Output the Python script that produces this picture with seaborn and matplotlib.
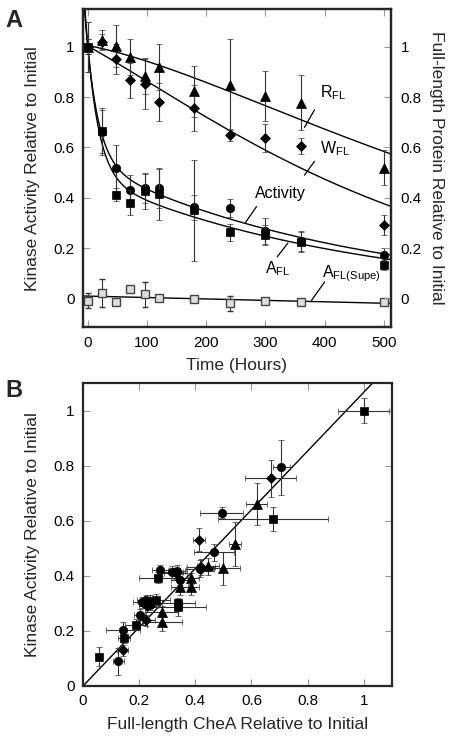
import numpy as np
import pandas as pd
import matplotlib
matplotlib.use("Agg")
import matplotlib.pyplot as plt
import seaborn as sns

# ---- Panel A data: time course ----
hours = [0, 24, 48, 72, 96, 120, 180, 240, 300, 360, 500]

r_fl = [1.0, 1.028, 1.004, 0.96, 0.884, 0.92, 0.823, 0.85, 0.806, 0.778, 0.519]
r_fl_err = [0.03, 0.04, 0.085, 0.07, 0.07, 0.09, 0.1, 0.18, 0.1, 0.11, 0.07]

w_fl = [1.0, 1.02, 0.951, 0.867, 0.852, 0.781, 0.757, 0.649, 0.639, 0.606, 0.293]
w_fl_err = [0.03, 0.03, 0.06, 0.07, 0.1, 0.075, 0.09, 0.025, 0.055, 0.03, 0.04]

activity = [1.0, 0.66, 0.518, 0.43, 0.44, 0.44, 0.362, 0.36, 0.268, 0.228, 0.172]
activity_err = [0.1, 0.09, 0.09, 0.06, 0.06, 0.08, 0.05, 0.035, 0.05, 0.04, 0.03]

a_fl = [1.0, 0.667, 0.412, 0.38, 0.425, 0.413, 0.35, 0.262, 0.251, 0.224, 0.134]
a_fl_err = [0.1, 0.09, 0.025, 0.05, 0.07, 0.1, 0.2, 0.035, 0.04, 0.04, 0.02]

supe = [-0.01, 0.02, -0.013, 0.036, 0.016, 0.0, -0.004, -0.02, -0.01, -0.015, -0.013]
supe_err = [0.03, 0.055, 0.01, 0.01, 0.05, 0.01, 0.01, 0.03, 0.01, 0.01, 0.01]

# ---- Panel B data: activity vs full-length CheA ----
circ_x = [0.707, 0.494, 0.467, 0.276, 0.316, 0.334, 0.345, 0.416, 0.209, 0.223, 0.237, 0.24, 0.203, 0.143, 0.126]
circ_y = [0.794, 0.630, 0.485, 0.42, 0.414, 0.418, 0.386, 0.426, 0.304, 0.311, 0.309, 0.295, 0.259, 0.204, 0.089]
circ_xe = [0.03, 0.076, 0.07, 0.03, 0.04, 0.03, 0.03, 0.05, 0.03, 0.03, 0.03, 0.03, 0.02, 0.06, 0.02]
circ_ye = [0.1, 0.02, 0.03, 0.02, 0.02, 0.02, 0.02, 0.03, 0.02, 0.02, 0.02, 0.02, 0.02, 0.03, 0.05]

sq_x = [1.0, 0.677, 0.268, 0.26, 0.34, 0.337, 0.189, 0.146, 0.058]
sq_y = [1.0, 0.607, 0.393, 0.313, 0.301, 0.286, 0.222, 0.175, 0.106]
sq_xe = [0.09, 0.195, 0.07, 0.05, 0.06, 0.1, 0.04, 0.02, 0.01]
sq_ye = [0.045, 0.044, 0.02, 0.02, 0.02, 0.03, 0.02, 0.02, 0.035]

dia_x = [0.668, 0.413, 0.42, 0.33, 0.229, 0.226, 0.141]
dia_y = [0.754, 0.532, 0.432, 0.41, 0.29, 0.239, 0.13]
dia_xe = [0.092, 0.022, 0.05, 0.04, 0.03, 0.03, 0.02]
dia_ye = [0.068, 0.04, 0.03, 0.02, 0.02, 0.02, 0.02]

tri_x = [0.618, 0.541, 0.5, 0.445, 0.383, 0.383, 0.345, 0.28, 0.282]
tri_y = [0.661, 0.515, 0.428, 0.434, 0.392, 0.359, 0.359, 0.27, 0.231]
tri_xe = [0.039, 0.022, 0.06, 0.04, 0.03, 0.03, 0.03, 0.06, 0.07]
tri_ye = [0.078, 0.08, 0.06, 0.03, 0.02, 0.03, 0.03, 0.02, 0.03]


def fit_biexp(t, y):
    # grid search over two rates, amplitudes by least squares
    t = np.asarray(t, float)
    y = np.asarray(y, float)
    best = None
    for k1 in np.logspace(-2.5, 0, 70):
        for k2 in np.logspace(-5, -2, 70):
            if k2 >= k1:
                continue
            M = np.column_stack([np.exp(-k1 * t), np.exp(-k2 * t)])
            c, *_ = np.linalg.lstsq(M, y, rcond=None)
            sse = np.sum((M @ c - y) ** 2)
            if best is None or sse < best[0]:
                best = (sse, k1, k2, c)
    _, k1, k2, c = best
    return lambda x: c[0] * np.exp(-k1 * x) + c[1] * np.exp(-k2 * x)


sns.set_theme(style="ticks")
plt.rcParams['font.family'] = ['Liberation Sans', 'DejaVu Sans']
plt.rcParams['axes.linewidth'] = 1.6
plt.rcParams['xtick.color'] = '#999999'
plt.rcParams['ytick.color'] = '#999999'
plt.rcParams['xtick.labelcolor'] = 'black'
plt.rcParams['ytick.labelcolor'] = 'black'

fig = plt.figure(figsize=(4.61, 7.37), dpi=100)
axA = fig.add_axes([0.180, 0.556, 0.668, 0.4315])
axB = fig.add_axes([0.180, 0.0692, 0.670, 0.411])

tt = np.linspace(-8, 512, 600)
eb = dict(ecolor='#333333', elinewidth=0.8, capsize=2, capthick=0.8, ls='none', mew=0.5)

# fitted curves
curves = []
for name, vals in [("R", r_fl), ("W", w_fl), ("Act", activity), ("A", a_fl)]:
    f = fit_biexp(hours, vals)
    curves.append(pd.DataFrame({"t": tt, "y": f(tt), "s": name}))
pcoef = np.polyfit(hours, supe, 1)
curves.append(pd.DataFrame({"t": tt, "y": np.polyval(pcoef, tt), "s": "Supe"}))
curve_df = pd.concat(curves)
sns.lineplot(data=curve_df, x="t", y="y", units="s", estimator=None, color='black',
             lw=1.0, ax=axA, zorder=2)

axA.errorbar(hours, r_fl, yerr=r_fl_err, marker='^', ms=6.5, color='black', **eb, zorder=3)
axA.errorbar(hours, w_fl, yerr=w_fl_err, marker='D', ms=5, color='black', **eb, zorder=3)
axA.errorbar(hours, activity, yerr=activity_err, marker='o', ms=6, color='black', **eb, zorder=3)
axA.errorbar(hours, a_fl, yerr=a_fl_err, marker='s', ms=6, color='black', **eb, zorder=4)
eb_supe = dict(eb, mew=1.0)
axA.errorbar(hours, supe, yerr=supe_err, marker='s', ms=6, mfc='#dddddd', mec='#444444',
             color='black', **eb_supe, zorder=3)

axA.set_xlim(-8, 512)
axA.set_ylim(-0.115, 1.15)
axA.set_xticks([0, 100, 200, 300, 400, 500])
axA.set_yticks([0, 0.2, 0.4, 0.6, 0.8, 1])
axA.set_yticklabels(['0', '0.2', '0.4', '0.6', '0.8', '1'])
axA.tick_params(direction='in', length=5, width=0.8, labelsize=11, top=True, right=False, pad=6)
axA.set_xlabel("Time (Hours)", fontsize=12.5, labelpad=6)
axA.set_ylabel("Kinase Activity Relative to Initial", fontsize=12.5, labelpad=10)

axA2 = axA.twinx()
axA2.set_ylim(axA.get_ylim())
axA2.set_yticks([0, 0.2, 0.4, 0.6, 0.8, 1])
axA2.set_yticklabels(['0', '0.2', '0.4', '0.6', '0.8', '1'])
axA2.tick_params(direction='in', length=5, width=0.8, labelsize=11, pad=7)
axA2.set_ylabel("Full-length Protein Relative to Initial", fontsize=12.5, rotation=270, labelpad=16)

# curve labels with leader lines
lab = dict(fontsize=11.5, color='black')
axA.text(392, 0.80, r"R$\mathregular{_{FL}}$", **lab)
axA.plot([366, 383], [0.68, 0.75], color='black', lw=0.9)
axA.text(392, 0.575, r"W$\mathregular{_{FL}}$", **lab)
axA.plot([366, 383], [0.49, 0.545], color='black', lw=0.9)
axA.text(282, 0.40, "Activity", **lab)
axA.plot([266, 285], [0.30, 0.365], color='black', lw=0.9)
axA.text(300, 0.10, r"A$\mathregular{_{FL}}$", **lab)
axA.plot([320, 338], [0.165, 0.22], color='black', lw=0.9)
axA.text(396, 0.085, r"A$\mathregular{_{FL(Supe)}}$", **lab)
axA.plot([378, 400], [-0.008, 0.065], color='black', lw=0.9)

for sp in axA.spines.values():
    sp.set_visible(True)
for sp in axA2.spines.values():
    sp.set_linewidth(1.6)

# ---- Panel B ----
allx = np.array(circ_x + sq_x + dia_x + tri_x)
ally = np.array(circ_y + sq_y + dia_y + tri_y)
slope = np.sum(allx * ally) / np.sum(allx * allx)  # fit through origin
xx = np.linspace(0, 1.1, 50)
sns.lineplot(x=xx, y=slope * xx, color='black', lw=1.0, ax=axB, zorder=2)

axB.errorbar(circ_x, circ_y, xerr=circ_xe, yerr=circ_ye, marker='o', ms=6, color='black', **eb, zorder=3)
axB.errorbar(sq_x, sq_y, xerr=sq_xe, yerr=sq_ye, marker='s', ms=6, color='black', **eb, zorder=3)
axB.errorbar(dia_x, dia_y, xerr=dia_xe, yerr=dia_ye, marker='D', ms=5, color='black', **eb, zorder=3)
axB.errorbar(tri_x, tri_y, xerr=tri_xe, yerr=tri_ye, marker='^', ms=6.5, color='black', **eb, zorder=3)

axB.set_xlim(0, 1.1)
axB.set_ylim(0, 1.1)
ticks = [0, 0.2, 0.4, 0.6, 0.8, 1]
labels = ['0', '0.2', '0.4', '0.6', '0.8', '1']
axB.set_xticks(ticks)
axB.set_xticklabels(labels)
axB.set_yticks(ticks)
axB.set_yticklabels(labels)
axB.tick_params(direction='in', length=5, width=0.8, labelsize=11, top=True, right=True, pad=6)
axB.set_xlabel("Full-length CheA Relative to Initial", fontsize=12.5, labelpad=6)
axB.set_ylabel("Kinase Activity Relative to Initial", fontsize=12.5, labelpad=10)
for sp in axB.spines.values():
    sp.set_visible(True)

fig.text(0.012, 0.972, "A", fontsize=17, fontweight='bold', ha='left', va='center')
fig.text(0.012, 0.47, "B", fontsize=17, fontweight='bold', ha='left', va='center')

fig.savefig("out.png", dpi=100)
